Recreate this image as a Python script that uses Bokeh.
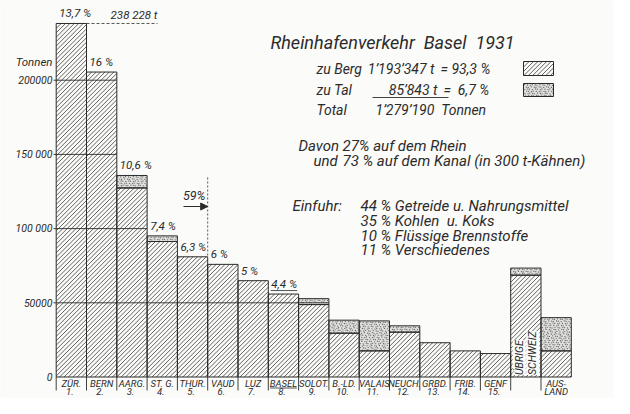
import math
from bokeh.plotting import figure
from bokeh.models import Range1d, Label, Arrow, NormalHead
from bokeh.core.properties import value
from bokeh.embed import file_html
from bokeh.resources import INLINE

# ---------------- data ----------------
cantons = ["ZÜR.", "BERN", "AARG.", "ST. G.", "THUR.", "VAUD", "LUZ", "BASEL",
           "SOLOT.", "B.-LD.", "VALAIS", "NEUCH.", "GRBD.", "FRIB.", "GENF",
           "ÜBRIGE SCHWEIZ", "AUSLAND"]
numbers = ["1.", "2.", "3.", "4.", "5.", "6.", "7.", "8.", "9.", "10.", "11.",
           "12.", "13.", "14.", "15."]
berg = [238228, 205500, 127400, 91300, 81000, 75900, 64900, 55900, 48800,
        29500, 17600, 30200, 23100, 17600, 15800, 68600, 17600]
tal = [0, 0, 8400, 3800, 0, 0, 0, 0, 4000, 8800, 20200, 4300, 0, 0, 0, 4800, 22400]
pct_labels = ["13,7 %", "16 %", "10,6 %", "7,4 %", "6,3 %", "6 %", "5 %", "4,4 %"]
tick_values = [0, 50000, 100000, 150000, 200000]
tick_labels = ["0", "50000", "100 000", "150 000", "200000"]
max_label = "238 228 t"
cum_label = "59%"
cum_count = 5

# ---------------- layout helpers (picture pixel <-> data) ----------------
X0, W, Y0, K = 55.7, 30.3, 376.5, 74.2 / 50000.0
def fx(px):
    return (px - X0) / W
def fy(py):
    return (Y0 - py) / K
def px_(x):
    return X0 + W * x
def py_(y):
    return Y0 - K * y

INK = "#2b2b2b"
BG = "#fbfbf9"
FONT = "Roboto"
NB = "\u00a0"

PW, PH = 614, 398
p = figure(width=PW, height=PH, output_backend="svg", toolbar_location=None,
           x_range=Range1d(fx(0), fx(PW)), y_range=Range1d(fy(PH), fy(0)),
           x_axis_type=None, y_axis_type=None, min_border=0,
           background_fill_color=BG, border_fill_color=BG, outline_line_color=None)
p.grid.visible = False

# texture helpers (drawn as plain line / dot marks clipped to each rectangle)
HS = 4.4  # hatch spacing in pixels
def hatch(l, r, b, t, xs0, ys0, xs1, ys1):
    L, R, T, B = px_(l), px_(r), py_(t), py_(b)
    k0 = math.ceil((L + T) / HS)
    k1 = math.floor((R + B) / HS)
    for k in range(k0, k1 + 1):
        c = k * HS
        a0 = max(L, c - B)
        a1 = min(R, c - T)
        if a1 - a0 < 0.3:
            continue
        xs0.append(fx(a0)); ys0.append(fy(c - a0))
        xs1.append(fx(a1)); ys1.append(fy(c - a1))

DS = 2.5
def stipple(l, r, b, t, dx, dy):
    L, R, T, B = px_(l), px_(r), py_(t), py_(b)
    j = 0
    yy = T + 1.2
    while yy < B - 0.6:
        xx = L + 1.0 + (DS / 2 if j % 2 else 0)
        i = 0
        while xx < R - 0.6:
            jit = ((i * 7 + j * 3) % 5) * 0.25
            dx.append(fx(xx + jit)); dy.append(fy(yy + ((i + j) % 3) * 0.3))
            xx += DS
            i += 1
        yy += DS * 0.85
        j += 1

n = len(cantons)
left = list(range(n))
right = [i + 1 for i in range(n)]
totals = [b + t for b, t in zip(berg, tal)]

# stippled (zu Tal)
ti = [i for i in range(n) if tal[i] > 0]
p.quad(left=[left[i] for i in ti], right=[right[i] for i in ti],
       bottom=[berg[i] for i in ti], top=[totals[i] for i in ti],
       fill_color="#e0e0de", line_color=None)
sx, sy = [], []
for i in ti:
    stipple(left[i], right[i], berg[i], totals[i], sx, sy)
lx0, lx1 = fx(523), fx(553)
p.quad(left=[lx0], right=[lx1], bottom=[fy(96)], top=[fy(83)], fill_color="#e0e0de", line_color=None)
stipple(lx0, lx1, fy(96), fy(83), sx, sy)
p.scatter(x=sx, y=sy, marker="circle", size=1.3, fill_color="#666666", line_color=None)

# hatching (zu Berg)
hx0, hy0, hx1, hy1 = [], [], [], []
for i in range(n):
    hatch(left[i], right[i], 0, berg[i], hx0, hy0, hx1, hy1)
hatch(lx0, lx1, fy(75), fy(61), hx0, hy0, hx1, hy1)
p.segment(x0=hx0, y0=hy0, x1=hx1, y1=hy1, line_color="#3c3c3c", line_width=0.8)

# bar outlines
p.quad(left=left, right=right, bottom=[0] * n, top=berg, fill_color=None,
       line_color=INK, line_width=1)
p.quad(left=[left[i] for i in ti], right=[right[i] for i in ti],
       bottom=[berg[i] for i in ti], top=[totals[i] for i in ti],
       fill_color=None, line_color=INK, line_width=1)
p.quad(left=[lx0, lx0], right=[lx1, lx1], bottom=[fy(75), fy(96)], top=[fy(61), fy(83)],
       fill_color=None, line_color=INK, line_width=1)

# grid lines through the contiguous bars from the axis
for v in tick_values[1:]:
    k = 0
    while k < 15 and totals[k] >= v:
        k += 1
    p.segment(x0=[fx(53)], y0=[v], x1=[k], y1=[v], line_color=INK, line_width=0.9)

# tick labels
p.text(x=[fx(52)] * len(tick_values), y=tick_values, text=tick_labels,
       text_font=value(FONT), text_font_style="italic", text_font_size="10.5px",
       text_align="right", text_baseline="middle", text_color=INK)

def txt(px, py, s, size, align="left", baseline="middle"):
    p.text(x=[fx(px)], y=[fy(py)], text=[s], text_font=value(FONT),
           text_font_style="italic", text_font_size=f"{size}px",
           text_align=align, text_baseline=baseline, text_color=INK)

txt(52, 61, "Tonnen", 11.5, align="right")

# percent labels
m = len(pct_labels)
p.text(x=[i + 0.1 for i in range(m)], y=totals[:m], text=pct_labels,
       text_font=value(FONT), text_font_style="italic", text_font_size="11.5px",
       text_align="left", text_baseline="bottom", y_offset=-3, text_color=INK)
u44 = py_(totals[7]) - 3.5
p.segment(x0=[7.08], y0=[fy(u44)], x1=[7.95], y1=[fy(u44)], line_color=INK, line_width=0.8)

# max value dashed line
p.segment(x0=[1], y0=[totals[0]], x1=[fx(157)], y1=[totals[0]],
          line_color=INK, line_dash="3 2", line_width=0.8)
p.text(x=[fx(157)], y=[totals[0]], text=[max_label], text_font=value(FONT),
       text_font_style="italic", text_font_size="11.5px", text_align="right",
       text_baseline="bottom", y_offset=-1, text_color=INK)

# cumulative 59 % marker
p.segment(x0=[cum_count], y0=[fy(177)], x1=[cum_count], y1=[totals[cum_count - 1]],
          line_color=INK, line_dash="2 2", line_width=0.8)
p.add_layout(Arrow(end=NormalHead(size=7, fill_color=INK, line_color=INK),
                   x_start=fx(183), y_start=fy(206), x_end=cum_count, y_end=fy(206),
                   line_color=INK, line_width=1))
txt(205, 195, cum_label, 12.5, align="right")

# separators below baseline
sep = list(range(16)) + [16]
p.segment(x0=sep, y0=[0] * len(sep), x1=sep, y1=[fy(390)] * len(sep),
          line_color=INK, line_width=0.9)

# category labels
p.text(x=[i + 0.5 for i in range(15)], y=[fy(382.5)] * 15, text=cantons[:15],
       text_font=value(FONT), text_font_style="italic", text_font_size="9.5px",
       text_align="center", text_baseline="middle", text_color=INK)
p.text(x=[i + 0.45 for i in range(15)], y=[fy(391)] * 15, text=numbers,
       text_font=value(FONT), text_font_style="italic", text_font_size="9.5px",
       text_align="center", text_baseline="middle", text_color=INK)
p.segment(x0=[7.06], y0=[fy(387.5)], x1=[7.94], y1=[fy(387.5)], line_color=INK, line_width=0.8)
p.text(x=[16.5, 16.5], y=[fy(382.5), fy(391)], text=["AUS-", "LAND"],
       text_font=value(FONT), text_font_style="italic", text_font_size="9.5px",
       text_align="center", text_baseline="middle", text_color=INK)
for j, word in enumerate(cantons[15].split(" ")):
    p.add_layout(Label(x=15.28 + 0.45 * j, y=fy(374.5), text=word, angle=1.5708,
                       text_font=FONT, text_font_style="italic", text_font_size="10.5px",
                       text_align="left", text_baseline="middle", text_color=INK,
                       background_fill_color=BG))

# legend / text block
txt(270, 42, f"Rheinhafenverkehr{NB*2}Basel{NB*2}1931", 18)
txt(316, 68, "zu Berg", 14)
txt(434, 68, "1’193’347 t", 14, align="right")
txt(440, 68, "= 93,3 %", 14)
txt(316, 89, "zu Tal", 14)
txt(437, 89, "85’843 t", 14, align="right")
txt(443, 89, f"={NB*2}6,7 %", 14)
p.segment(x0=[fx(372)], y0=[fy(97)], x1=[fx(448)], y1=[fy(97)], line_color=INK, line_width=0.9)
txt(316, 109, "Total", 14)
txt(375, 109, f"1’279’190{NB*2}Tonnen", 14)

txt(298, 145, "Davon", 15)
txt(342, 145, "27% auf dem Rhein", 15)
txt(313, 160, "und", 15)
txt(342, 160, "73 % auf dem Kanal (in 300 t-Kähnen)", 15)
txt(292, 205, "Einfuhr:", 15)
txt(360, 205, "44 % Getreide u. Nahrungsmittel", 15)
txt(360, 220, f"35 % Kohlen{NB*2}u. Koks", 15)
txt(360, 235, "10 % Flüssige Brennstoffe", 15)
txt(360, 249, "11 % Verschiedenes", 15)

open("out.html", "w").write(file_html(p, INLINE))
